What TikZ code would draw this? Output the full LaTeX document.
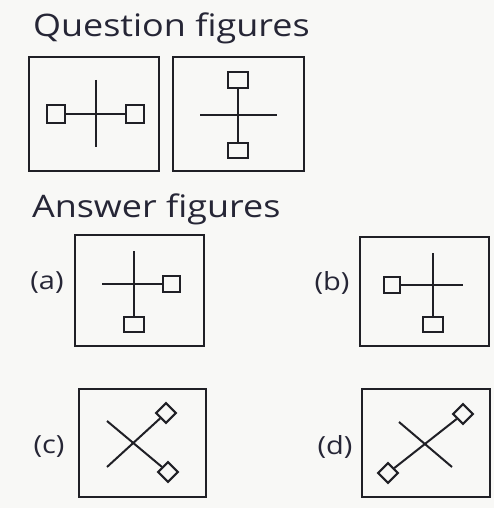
\documentclass[tikz,border=0pt]{standalone}
\usepackage{fontspec}
\setmainfont[FakeStretch=1.16]{Open Sans}
\usetikzlibrary{positioning}
\definecolor{ink}{HTML}{202026}
\definecolor{txt}{HTML}{262636}
\definecolor{paper}{HTML}{F8F8F6}

\begin{document}
\begin{tikzpicture}[x=1pt,y=-1pt,line width=2pt,draw=ink,
		frame/.style={draw=ink,line width=2.3pt},
		sq/.style={draw=ink,line width=2pt,minimum width=18pt,minimum height=17pt,inner sep=0pt},
		dia/.style={draw=ink,line width=2pt,minimum size=14pt,inner sep=0pt,rotate=45},
		title/.style={text=txt,font=\fontsize{31}{34}\selectfont,anchor=base west,inner sep=0pt},
		lab/.style={text=txt,font=\fontsize{25}{28}\selectfont,inner sep=0pt}]
			\fill[paper] (0,0) rectangle (494,508);
			\useasboundingbox (0,0) rectangle (494,508);
			% headings
			\node[title] (qhead) at (32,37) {Question figures};
			\node[title] (ahead) at (31,217) {Answer figures};
			% question figure 1
			\draw[frame] (29,57) rectangle (159,171);
			\node[sq] (q1l) at (56,114) {};
			\node[sq] (q1r) at (134.5,114) {};
			\draw (q1l) -- (q1r);
			\draw (96,80) -- (96,147);
			% question figure 2
			\draw[frame] (173,57) rectangle (304,171);
			\node[sq,minimum width=20pt,minimum height=16pt] (q2t) at (238,80) {};
			\node[sq,minimum width=20pt,minimum height=15pt] (q2b) at (238,150) {};
			\draw (q2t) -- (q2b);
			\draw (200,115) -- (277,115);
			% (a)
			\node[lab] (la) at (47,283) {(a)};
			\draw[frame] (75,235) rectangle (204,346);
			\node[sq,minimum width=17pt,minimum height=16pt] (ar) at (171.5,284) {};
			\node[sq,minimum width=20pt,minimum height=15pt] (ab) at (134,324.5) {};
			\coordinate (al) at (102,284);
			\coordinate (at) at (134,251);
			\draw (al) -- (ar);
			\draw (at) -- (ab);
			% (b)
			\node[lab] (lb) at (332,283) {(b)};
			\draw[frame] (360,237) rectangle (489,346);
			\node[sq,minimum width=16pt,minimum height=16pt] (bl) at (392,284.5) {};
			\node[sq,minimum width=20pt,minimum height=15pt] (bb) at (433,324.5) {};
			\coordinate (br) at (463,284.5);
			\coordinate (bt) at (433,253);
			\draw (bl) -- (br);
			\draw (bt) -- (bb);
			% (c)
			\node[lab] (lc) at (49,447) {(c)};
			\draw[frame] (79,389) rectangle (206,497);
			\node[dia] (cu) at (166,413) {};
			\node[dia] (cd) at (168,472) {};
			\coordinate (cul) at (107,421);
			\coordinate (cdl) at (107,467);
			\draw (cul) -- (cd);
			\draw (cdl) -- (cu);
			% (d)
			\node[lab] (ld) at (335,447) {(d)};
			\draw[frame] (362,389) rectangle (490,497);
			\node[dia] (du) at (463,414) {};
			\node[dia] (dd) at (388,473) {};
			\coordinate (dul) at (399,422);
			\coordinate (ddr) at (452,467);
			\draw (dul) -- (ddr);
			\draw (dd) -- (du);
		\end{tikzpicture}
\end{document}
